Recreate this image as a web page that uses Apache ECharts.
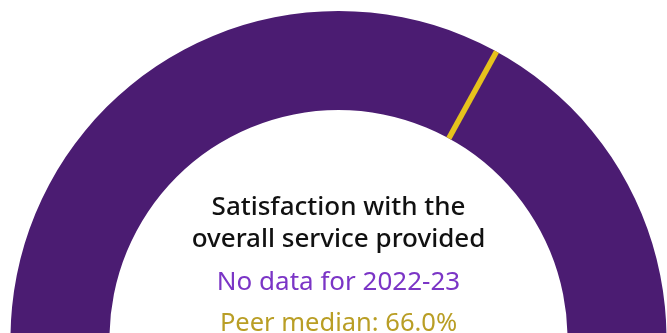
<!DOCTYPE html>
<html>
<head>
<meta charset="utf-8">
<script src="https://cdn.jsdelivr.net/npm/echarts@6/dist/echarts.min.js"></script>
<style>
html,body{margin:0;padding:0;background:#fff;}
#chart{width:667px;height:333px;}
</style>
</head>
<body>
<div id="chart"></div>
<script>
// Data
const gaugeMin = 0;
const gaugeMax = 100;
const peerMedian = [66.0];
const titleLines = ["Satisfaction with the", "overall service provided"];
const noDataText = ["No data for 2022-23"];
const peerText = ["Peer median: 66.0%"];

const chart = echarts.init(document.getElementById('chart'), null, {renderer: 'canvas'});
const cx = 338.5, cy = 339, outerR = 328, innerR = 229;
const ringW = outerR - innerR;
const FONT = '"Noto Sans", sans-serif';

function txt(str, y, font, color) {
  return {type: 'text', x: cx, y: y, silent: true,
    style: {text: str, font: font, fill: color, align: 'center', verticalAlign: 'middle'}};
}

chart.setOption({
  animation: false,
  backgroundColor: '#ffffff',
  series: [{
    type: 'gauge',
    center: [cx, cy],
    radius: outerR,
    startAngle: 180,
    endAngle: 0,
    min: gaugeMin,
    max: gaugeMax,
    axisLine: {show: true, lineStyle: {width: ringW, color: [[1, '#4b1c72']]}},
    axisTick: {show: false},
    splitLine: {show: false},
    axisLabel: {show: false},
    progress: {show: false},
    anchor: {show: false},
    title: {show: false},
    detail: {show: false},
    pointer: {
      show: true,
      icon: 'rect',
      width: 5.5,
      length: ringW,
      offsetCenter: [0, -innerR],
      keepAspect: false,
      itemStyle: {color: '#e6c21c'}
    },
    data: peerMedian.map(v => ({value: v}))
  }],
  graphic: [
    txt(titleLines[0], 207.5, '500 26px ' + FONT, '#111111'),
    txt(titleLines[1], 239.5, '500 26px ' + FONT, '#111111'),
    txt(noDataText[0], 283, '400 26px ' + FONT, '#7b35c6'),
    txt(peerText[0], 324, '400 25.5px ' + FONT, '#b99e25')
  ]
});
</script>
</body>
</html>
